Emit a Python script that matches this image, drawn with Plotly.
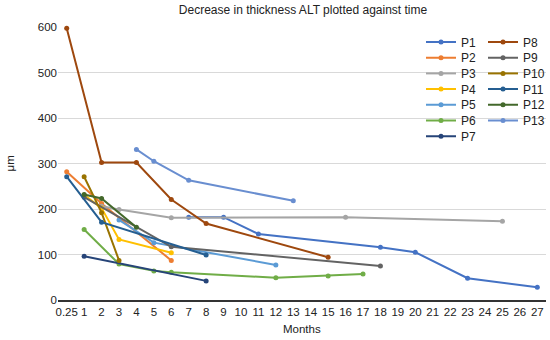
import plotly.graph_objects as go

categories = ["0.25"] + [str(i) for i in range(1, 28)]

series_names = ["P1", "P2", "P3", "P4", "P5", "P6", "P7", "P8", "P9", "P10", "P11", "P12", "P13"]

p1_x = ["7", "9", "11", "18", "20", "23", "27"]
p1_y = [182, 182, 145, 116, 105, 48, 28]
p2_x = ["0.25", "2", "6"]
p2_y = [282, 212, 87]
p3_x = ["2", "3", "6", "16", "25"]
p3_y = [206, 199, 181, 182, 173]
p4_x = ["1", "2", "3", "6"]
p4_y = [231, 202, 133, 104]
p5_x = ["3", "5", "12"]
p5_y = [176, 126, 77]
p6_x = ["1", "3", "5", "6", "12", "15", "17"]
p6_y = [155, 79, 64, 61, 49, 53, 57]
p7_x = ["1", "8"]
p7_y = [96, 42]
p8_x = ["0.25", "2", "4", "6", "8", "15"]
p8_y = [597, 302, 302, 221, 168, 94]
p9_x = ["1", "6", "18"]
p9_y = [226, 117, 75]
p10_x = ["1", "2", "3"]
p10_y = [271, 192, 87]
p11_x = ["0.25", "2", "8"]
p11_y = [271, 171, 99]
p12_x = ["1", "2", "4"]
p12_y = [232, 223, 160]
p13_x = ["4", "5", "7", "13"]
p13_y = [331, 305, 263, 218]

colors = ["#4472C4", "#ED7D31", "#A5A5A5", "#FFC000", "#5B9BD5", "#70AD47", "#264478",
          "#9E480E", "#636363", "#997300", "#255E91", "#43682B", "#698ED0"]

xs = [p1_x, p2_x, p3_x, p4_x, p5_x, p6_x, p7_x, p8_x, p9_x, p10_x, p11_x, p12_x, p13_x]
ys = [p1_y, p2_y, p3_y, p4_y, p5_y, p6_y, p7_y, p8_y, p9_y, p10_y, p11_y, p12_y, p13_y]

W, H = 550, 340
ML, MR, MT, MB = 58, 4, 27, 40
PW, PH = W - ML - MR, H - MT - MB
font_family = "Liberation Sans, Arial, sans-serif"

fig = go.Figure()
legend_layouts = {}
for i, (name, x, y, c) in enumerate(zip(series_names, xs, ys, colors)):
    lg = "legend" if i == 0 else f"legend{i + 1}"
    col, row = (0, i) if i < 7 else (1, i - 7)
    legend_layouts[lg] = dict(
        x=(421 + 62 * col) / W, y=1 - (42 + 15.7 * row) / H,
        xref="container", yref="container", xanchor="left", yanchor="middle",
        font=dict(size=12, color="#222222"), bgcolor="rgba(0,0,0,0)",
    )
    fig.add_trace(go.Scatter(
        x=x, y=y, name=name, mode="lines+markers",
        line=dict(color=c, width=2),
        marker=dict(color=c, size=5),
        cliponaxis=False,
        showlegend=True,
        legend=lg,
    ))

fig.update_layout(
    width=W, height=H,
    showlegend=True,
    margin=dict(l=ML, r=MR, t=MT, b=MB, autoexpand=False),
    paper_bgcolor="white", plot_bgcolor="white",
    font=dict(family=font_family, size=11.5, color="#222222"),
    title=dict(text="Decrease in thickness ALT plotted against time",
               x=303 / W, xanchor="center", y=1 - 10 / H, yanchor="middle",
               font=dict(size=12, color="#222222")),
    xaxis=dict(
        type="category", categoryorder="array", categoryarray=categories,
        range=[-0.5, 27.5], showgrid=False, showline=True, linecolor="#333333",
        linewidth=2, ticks="", zeroline=False,
        tickfont=dict(size=11.5), fixedrange=True,
    ),
    yaxis=dict(
        range=[0, 600], dtick=100, showgrid=True, gridcolor="#d9d9d9", gridwidth=1,
        zeroline=False, showline=False, ticks="",
        tickfont=dict(size=11.5), fixedrange=True,
    ),
    annotations=[
        dict(text="μm", xref="paper", yref="paper", x=(9 - ML) / PW, y=0.5,
             xanchor="center", yanchor="middle", textangle=-90, showarrow=False,
             font=dict(size=11.5, color="#222222")),
        dict(text="Months", xref="paper", yref="paper", x=0.5,
             y=-(329 - (H - MB)) / PH,
             xanchor="center", yanchor="middle", showarrow=False,
             font=dict(size=11.5, color="#222222")),
    ],
    **legend_layouts,
)

fig.write_html("out.html", config={"displayModeBar": False},
               post_script="document.body.style.margin='0';")
